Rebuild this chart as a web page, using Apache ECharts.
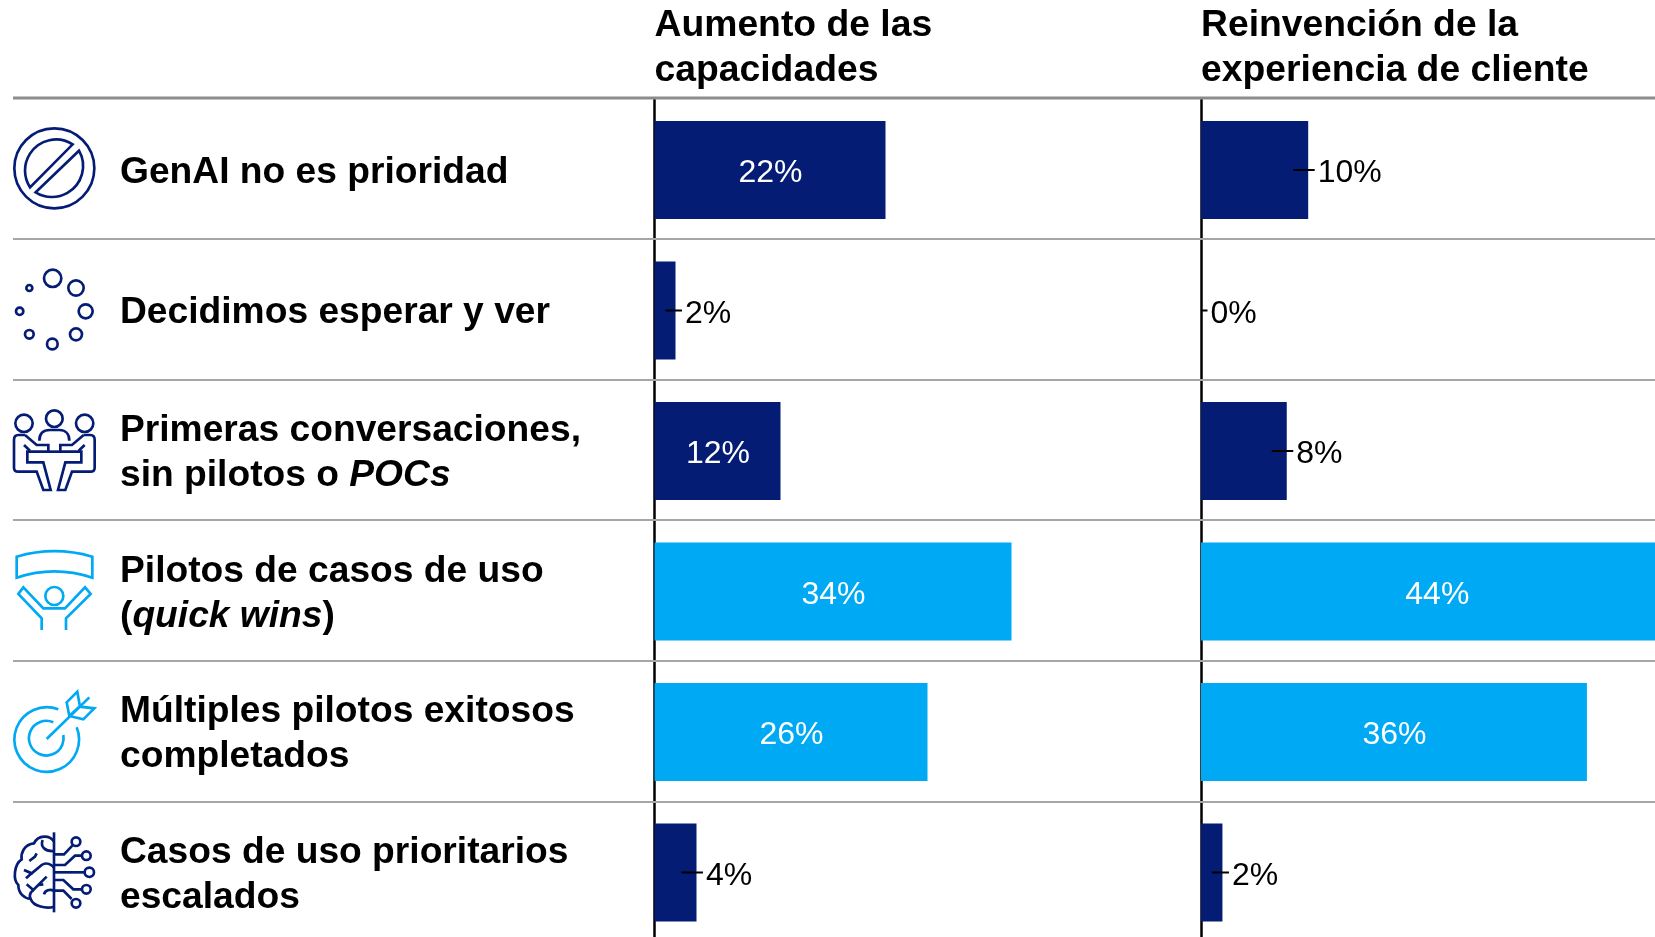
<!DOCTYPE html>
<html>
<head>
<meta charset="utf-8">
<style>
html,body{margin:0;padding:0;background:#fff;}
#chart{width:1655px;height:937px;}
</style>
<script src="https://cdn.jsdelivr.net/npm/echarts@6/dist/echarts.min.js"></script>
</head>
<body>
<div id="chart"></div>
<script>
var categories = [
	'{b|GenAI no es prioridad}',
	'{b|Decidimos esperar y ver}',
	'{b|Primeras conversaciones,}\n{b|sin pilotos o }{i|POCs}',
	'{b|Pilotos de casos de uso}\n{b|(}{i|quick wins}{b|)}',
	'{b|Múltiples pilotos exitosos}\n{b|completados}',
	'{b|Casos de uso prioritarios}\n{b|escalados}'
];
var headers = ['Aumento de las\ncapacidades', 'Reinvención de la\nexperiencia de cliente'];
var capacidades = [22, 2, 12, 34, 26, 4];
var experiencia = [10, 0, 8, 44, 36, 2];
var rowColors = ['#051C75', '#051C75', '#051C75', '#00A9F4', '#00A9F4', '#051C75'];
var separators = [239, 380, 520, 661, 802];

var NAVY = '#051C75', SKY = '#00A9F4';
var insideMin = 12; // hasta aqui la etiqueta va fuera con guia

// iconos dibujados a escala x3
var icons = [
	{y: 90, color: NAVY, paths: [
		'M43 235A120 120 0 1 0 283 235A120 120 0 1 0 43 235Z',
		'M218 163A93 93 0 0 0 90 292Z',
		'M237 182A93 93 0 0 1 107 307Z'
	], circles: [[158,565,26],[228,594,23],[257,664,21],[228,733,18],[157,762,16],[88,733,13],[59,664,11],[88,594,9]]},
	{y: 400, color: NAVY, paths: [
		'M118 122C118 100 130 90 150 90L178 90C195 90 208 100 208 122',
		'M75 105L55 105C47 105 42 111 42 120L42 203C42 210 47 215 55 215L110 215L130 270L152 270L130 187L82 187L82 155L145 155L145 135L110 135L75 105',
		'M72 135L90 152',
		'M251 105L271 105C279 105 284 111 284 120L284 203C284 210 279 215 271 215L216 215L196 270L174 270L196 187L244 187L244 155L181 155L181 135L216 135L251 105',
		'M254 135L236 152',
		'M145 155L181 155'
	], circles: [[72,70,26],[163,56,25],[254,70,26]]},
	{y: 380, color: SKY, paths: [
		'M50 530Q163 497 277 530L277 593Q163 555 50 593Z',
		'M125 750L125 715L55 642L70 622L130 685L195 685L255 622L272 642L198 715L198 750'
	], circles: [[163,648,27]]},
	{y: 660, color: SKY, paths: [
		'M175 148A97 97 0 1 0 230 202',
		'M160 187A52 52 0 1 0 190 225',
		'M140 237L268 112',
		'M232 95L200 127L208 168L250 178L283 145L240 140Z',
		'M208 168L238 140'
	], circles: []},
	{y: 825, color: NAVY, paths: [
		'M162 22L162 262',
		'M162 88L192 88L217 62',
		'M162 120L195 120L225 92L245 92',
		'M162 142L253 142',
		'M162 165L190 165L220 193L245 193',
		'M162 197L190 197L215 222',
		'M162 50C150 30 115 28 102 55C72 58 62 85 65 103C42 118 38 165 55 180C55 205 72 220 92 222C100 245 140 252 162 245',
		'M162 78C135 80 120 65 128 45',
		'M88 108L105 95L110 85',
		'M72 135L95 145L125 120C140 110 155 120 162 128',
		'M78 160L95 145',
		'M80 178L100 195L140 155',
		'M115 180L130 178',
		'M100 195C88 205 88 215 92 222',
		'M132 208C135 195 150 192 162 197'
	], circles: [[228,50,13],[259,92,13],[268,142,14],[259,193,13],[228,235,13]]}
];

function rowLines() {
	var out = [{type: 'line', shape: {x1: 13, y1: 98, x2: 1655, y2: 98}, style: {stroke: '#8c8c8c', lineWidth: 3}, z: 1}];
	separators.forEach(function (y) {
		out.push({type: 'line', shape: {x1: 13, y1: y, x2: 1655, y2: y}, style: {stroke: '#a6a6a6', lineWidth: 2}, z: 1});
	});
	return out;
}

var iconSeries = {
	type: 'custom',
	coordinateSystem: 'none',
	silent: true,
	data: icons.map(function (ic, i) { return i; }),
	renderItem: function (params) {
		var ic = icons[params.dataIndex];
		var kids = ic.paths.map(function (d) {
			return {type: 'path', shape: {pathData: d}, style: {fill: 'none', stroke: ic.color, lineWidth: 8}};
		});
		ic.circles.forEach(function (c) {
			kids.push({type: 'circle', shape: {cx: c[0], cy: c[1], r: c[2]}, style: {fill: 'none', stroke: ic.color, lineWidth: 8}});
		});
		return {type: 'group', x: 0, y: ic.y, scaleX: 1 / 3, scaleY: 1 / 3, children: kids};
	}
};

function leaderSeries(values, idx) {
	return {
		type: 'custom',
		xAxisIndex: idx,
		yAxisIndex: idx,
		z: 5,
		clip: false,
		data: values.map(function (v, i) { return [v, i]; }),
		renderItem: function (params, api) {
			var v = api.value(0);
			if (v >= insideMin) return null;
			var p = api.coord([v, api.value(1)]);
			var base = api.coord([0, api.value(1)])[0];
			var y = p[1];
			var x1 = v === 0 ? base + 1 : Math.max(p[0] - 15, base + 11);
			var x2 = p[0] + 6.5;
			return {
				type: 'group',
				children: [
					{type: 'line', shape: {x1: x1, y1: y, x2: x2, y2: y}, style: {stroke: '#000', lineWidth: 2}},
					{type: 'text', x: p[0] + 9.5, y: p[1] + 3.5, style: {text: v + '%', fill: '#000', font: '32px "Liberation Sans"', textAlign: 'left', textVerticalAlign: 'middle'}}
				]
			};
		}
	};
}

function barSeries(values, idx) {
	return {
		type: 'bar',
		xAxisIndex: idx,
		yAxisIndex: idx,
		barWidth: 98,
		z: 3,
		data: values.map(function (v, i) {
			return {value: v, itemStyle: {color: rowColors[i]}};
		}),
		label: {
			show: true,
			position: 'inside',
			offset: [0.5, 3.5],
			color: '#fff',
			fontFamily: 'Liberation Sans',
			fontSize: 32,
			formatter: function (p) { return p.value >= insideMin ? p.value + '%' : ''; }
		}
	};
}

var chart = echarts.init(document.getElementById('chart'), null, {renderer: 'canvas'});
var gridTop = 99.75, gridH = 843;
var panelX = [654.5, 1201];
var panelW = [525, 536]; // 50% en cada panel

function xAxisFor(i) {
	return {type: 'value', gridIndex: i, min: 0, max: 50, show: false};
}
function yAxisFor(i) {
	return {
		type: 'category',
		gridIndex: i,
		inverse: true,
		data: categories,
		axisTick: {show: false},
		axisLine: {show: true, onZero: false, lineStyle: {color: '#000', width: 2.5}},
		splitLine: {show: false},
		axisLabel: i === 0 ? {
			show: true,
			align: 'left',
			margin: 534.5,
			lineHeight: 45,
			padding: [4.5, 0, 0, 0],
			formatter: function (v) { return v; },
			rich: {
				b: {fontFamily: 'Liberation Sans', fontWeight: 'bold', fontSize: 37.2, lineHeight: 45, color: '#000'},
				i: {fontFamily: 'Liberation Sans', fontWeight: 'bold', fontStyle: 'italic', fontSize: 37.2, lineHeight: 45, color: '#000'}
			}
		} : {show: false}
	};
}

chart.setOption({
	animation: false,
	backgroundColor: '#fff',
	title: headers.map(function (h, i) {
		return {
			text: h,
			left: panelX[i],
			top: 3,
			padding: 0,
			textStyle: {fontFamily: 'Liberation Sans', fontWeight: 'bold', fontSize: 37.3, lineHeight: 45, color: '#000'}
		};
	}),
	grid: panelX.map(function (x, i) {
		return {left: x, top: gridTop, width: panelW[i], height: gridH, outerBoundsMode: 'none'};
	}),
	xAxis: [xAxisFor(0), xAxisFor(1)],
	yAxis: [yAxisFor(0), yAxisFor(1)],
	series: [
		barSeries(capacidades, 0),
		leaderSeries(capacidades, 0),
		barSeries(experiencia, 1),
		leaderSeries(experiencia, 1),
		iconSeries
	],
	graphic: rowLines()
});
</script>
</body>
</html>
